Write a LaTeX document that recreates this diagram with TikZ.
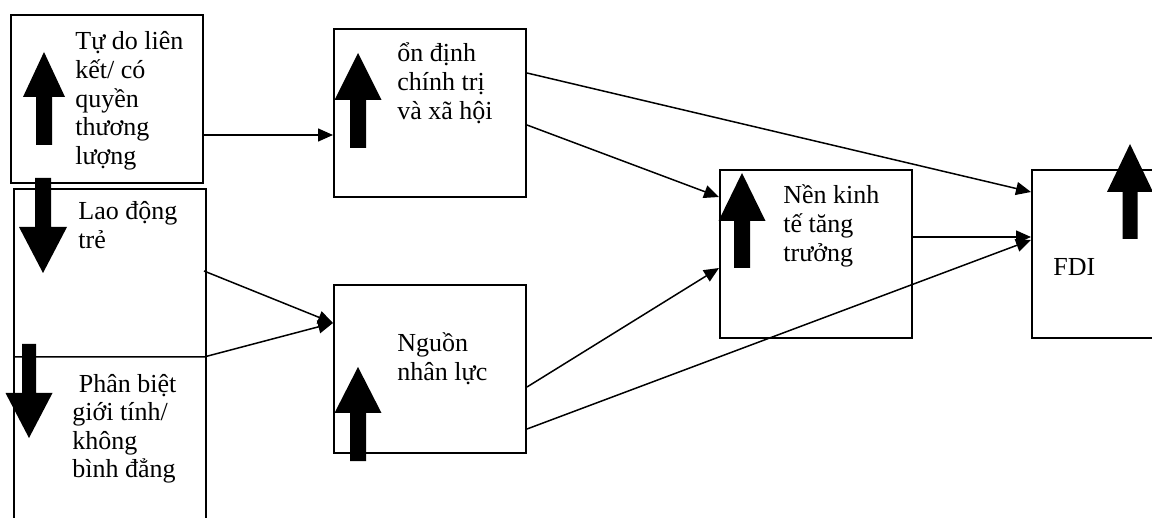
\documentclass[tikz,border=0pt]{standalone}
\usepackage{fontspec}
\setmainfont{Liberation Serif}
\usetikzlibrary{arrows.meta}
\newcommand{\blockup}[6]{% cx, bottom, headbase, tip, shaft half, head half
  \fill (#1-#5,#2) -- (#1-#5,#3) -- (#1-#6,#3) -- (#1,#4) -- (#1+#6,#3) -- (#1+#5,#3) -- (#1+#5,#2) -- cycle;}
\tikzset{
  box/.style={draw, line width=1pt, minimum width=96pt, inner sep=0pt},
  lbl/.style={anchor=base west, align=left, inner sep=0pt, font=\fontsize{13pt}{14.3pt}\selectfont},
  conn/.style={line width=0.75pt},
  arr/.style={conn, -{Triangle[length=7.5pt,width=6.5pt]}}
}
\begin{document}
\begin{tikzpicture}[x=0.5pt,y=-0.5pt]
\useasboundingbox (0,0) rectangle (1152,518);
% boxes
\node[box, minimum height=84pt] (b1) at (107,99) {};
\node[box, minimum height=175.5pt] (b2) at (110,364.5) {};
\node[box, minimum height=84pt] (b3) at (430,113) {};
\node[box, minimum height=84pt] (b4) at (430,369) {};
\node[box, minimum height=84pt] (b5) at (816,254) {};
\node[box, minimum height=84pt] (b6) at (1128,254) {};
% texts (anchor at baseline of last line)
\node[lbl] (t1) at (75,164.4) {Tự do liên\\kết/ có\\quyền\\thương\\lượng};
\node[lbl] (t2) at (78,248.6) {Lao động\\trẻ};
\node[lbl] (t3) at (72,477.8) {\ Phân biệt\\giới tính/\\không\\bình đẳng};
\node[lbl] (t4) at (397,119.2) {ổn định\\chính trị\\và xã hội};
\node[lbl] (t5) at (397,380.6) {Nguồn\\nhân lực};
\node[lbl] (t6) at (783,261.2) {Nền kinh\\tế tăng\\trưởng};
\node[lbl] (t7) at (1053,276) {FDI};
% connectors
\draw[arr] (b1.east |- 0,135) -- (b3.west |- 0,135);
\draw[arr] (b3.east |- 0,125) -- (b5.west |- 0,197);
\draw[arr] (b3.east |- 0,73) -- (b6.west |- 0,192);
\draw[arr] (b5.east |- 0,237) -- (b6.west |- 0,237);
\draw[arr] (b4.east |- 0,387) -- (b5.west |- 0,268);
\draw[arr] (b4.east |- 0,429) -- (b6.west |- 0,240);
\draw[arr] ([xshift=-1.5pt]b2.east |- 0,271) -- (b4.west |- 0,323);
\draw[arr] (b2.west |- 0,357) -- ([xshift=-1.5pt]b2.east |- 0,357) -- (b4.west |- 0,323);
% block arrows
\blockup{44}{145}{97}{52}{8}{21}
\blockup{43}{178}{227}{273}{8}{24}
\blockup{29}{344}{393}{438}{7}{23.5}
\blockup{358}{148}{100}{53}{8}{23.5}
\blockup{358}{461}{413}{367}{8}{23.5}
\blockup{742}{268}{221}{173}{8}{23.5}
\blockup{1130}{239}{192}{144}{7.5}{23}
\end{tikzpicture}
\end{document}
